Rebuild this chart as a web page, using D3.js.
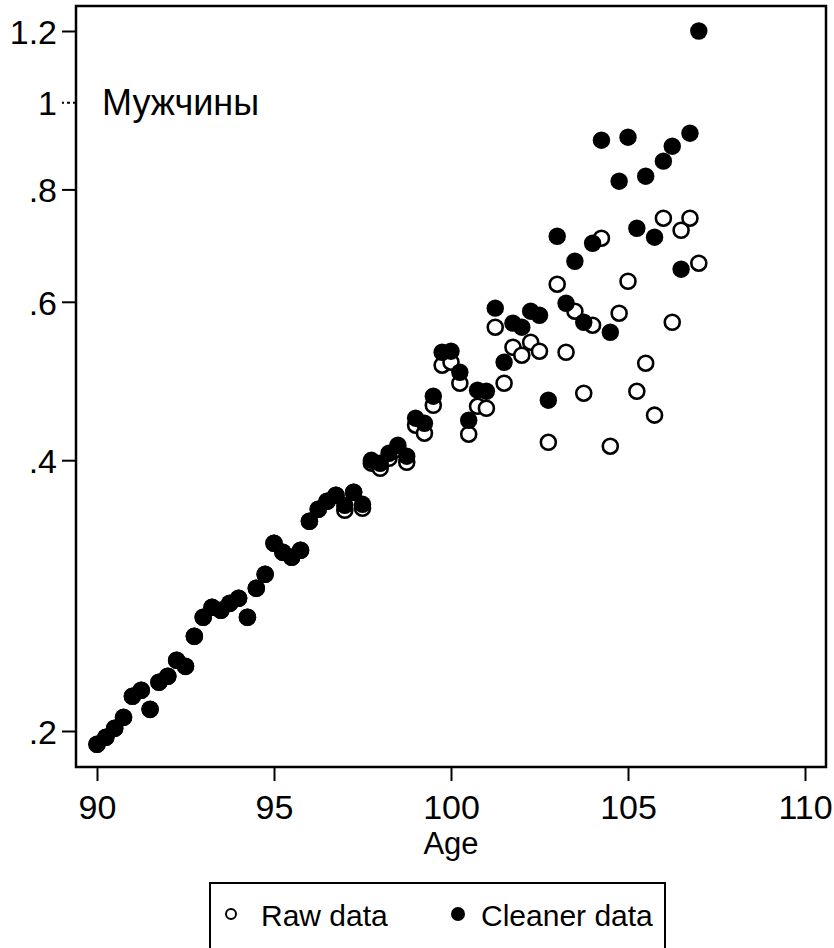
<!DOCTYPE html>
<html>
<head>
<meta charset="utf-8">
<script src="https://cdn.jsdelivr.net/npm/d3@7"></script>
<style>
  html, body { margin: 0; padding: 0; background: #fff; }
  svg { display: block; font-family: "Liberation Sans", Arial, sans-serif; }
</style>
</head>
<body>
<svg id="chart" width="834" height="948"></svg>
<script>
// ---- Data ----
const ages = [
  90, 90.25, 90.5, 90.75, 91, 91.25, 91.5, 91.75, 92, 92.25, 92.5, 92.75,
  93, 93.25, 93.5, 93.75, 94, 94.25, 94.5, 94.75, 95, 95.25, 95.5, 95.75,
  96, 96.25, 96.5, 96.75, 97, 97.25, 97.5, 97.75, 98, 98.25, 98.5, 98.75,
  99, 99.25, 99.5, 99.75, 100, 100.25, 100.5, 100.75, 101, 101.25, 101.5, 101.75,
  102, 102.25, 102.5, 102.75, 103, 103.25, 103.5, 103.75, 104, 104.25, 104.5, 104.75,
  105, 105.25, 105.5, 105.75, 106, 106.25, 106.5, 106.75, 107
];
const cleanerData = [
  0.1933, 0.1968, 0.2014, 0.2071, 0.2186, 0.2220, 0.2114, 0.2266, 0.2301, 0.2397, 0.2360, 0.2549,
  0.2676, 0.2745, 0.2724, 0.2773, 0.2809, 0.2676, 0.2882, 0.2987, 0.3234, 0.3160, 0.3120, 0.3176,
  0.3421, 0.3528, 0.3601, 0.3657, 0.3564, 0.3685, 0.3573, 0.3999, 0.3969, 0.4072, 0.4156, 0.4041,
  0.4454, 0.4397, 0.4712, 0.5273, 0.5287, 0.5010, 0.4431, 0.4785, 0.4772, 0.5903, 0.5140, 0.5681,
  0.5622, 0.5857, 0.5797, 0.4664, 0.7096, 0.5978, 0.6656, 0.5694, 0.6970, 0.9074, 0.5550, 0.8170,
  0.9144, 0.7243, 0.8275, 0.7079, 0.8600, 0.8936, 0.6522, 0.9238, 1.2000
];
const rawData = [
  0.1933, 0.1968, 0.2014, 0.2071, 0.2186, 0.2220, 0.2114, 0.2266, 0.2301, 0.2397, 0.2360, 0.2549,
  0.2676, 0.2745, 0.2724, 0.2773, 0.2809, 0.2676, 0.2882, 0.2987, 0.3234, 0.3160, 0.3120, 0.3176,
  0.3421, 0.3528, 0.3601, 0.3657, 0.3519, 0.3685, 0.3537, 0.3970, 0.3918, 0.4020, 0.4113, 0.3979,
  0.4375, 0.4286, 0.4604, 0.5101, 0.5140, 0.4871, 0.4275, 0.4592, 0.4569, 0.5622, 0.4871, 0.5341,
  0.5233, 0.5410, 0.5287, 0.4188, 0.6276, 0.5273, 0.5857, 0.4748, 0.5651, 0.7061, 0.4146, 0.5827,
  0.6324, 0.4772, 0.5127, 0.4489, 0.7431, 0.5694, 0.7206, 0.7431, 0.6623
];
const xTicks = [90, 95, 100, 105, 110];
const yTicks = [0.2, 0.4, 0.6, 0.8, 1, 1.2];
const yTickLabels = [".2", ".4", ".6", ".8", "1", "1.2"];
const panelTitle = "Мужчины";
const xTitle = "Age";
const legendLabels = ["Raw data", "Cleaner data"];

// ---- Layout ----
const svg = d3.select("#chart");
const frame = { left: 76, right: 826, top: 6, bottom: 767 };

const x = d3.scaleLinear().domain([90, 110]).range([97, 805]);
const y = d3.scaleLog().domain([0.2, 1.2]).range([731, 31]);

// frame box
svg.append("rect")
  .attr("x", frame.left).attr("y", frame.top)
  .attr("width", frame.right - frame.left).attr("height", frame.bottom - frame.top)
  .attr("fill", "none").attr("stroke", "#000").attr("stroke-width", 2.5);

// y axis
const yAxis = d3.axisLeft(y)
  .tickValues(yTicks)
  .tickFormat((d, i) => yTickLabels[i])
  .tickSize(14).tickPadding(5);
const gy = svg.append("g").attr("transform", `translate(${frame.left},0)`).call(yAxis);
gy.select(".domain").remove();
gy.selectAll(".tick line").attr("stroke", "#000").attr("stroke-width", 2);
gy.selectAll(".tick").filter(d => d === 1).select("line").attr("stroke-dasharray", "3,3");
gy.selectAll(".tick text").attr("font-size", 34).attr("fill", "#000")
  .attr("font-family", "Liberation Sans, Arial, sans-serif").attr("dy", "0.36em");

// x axis
const xAxis = d3.axisBottom(x).tickValues(xTicks).tickFormat(d3.format("d"))
  .tickSize(14).tickPadding(14);
const gx = svg.append("g").attr("transform", `translate(0,${frame.bottom})`).call(xAxis);
gx.select(".domain").remove();
gx.selectAll(".tick line").attr("stroke", "#000").attr("stroke-width", 2);
gx.selectAll(".tick text").attr("font-size", 34).attr("fill", "#000")
  .attr("font-family", "Liberation Sans, Arial, sans-serif");

// x title
svg.append("text").attr("x", x(100)).attr("y", 854)
  .attr("text-anchor", "middle").attr("font-size", 31).text(xTitle);

// panel title
svg.append("text").attr("x", 102).attr("y", 115)
  .attr("font-size", 36).text(panelTitle);

// raw data (hollow)
svg.append("g").selectAll("circle").data(ages).join("circle")
  .attr("cx", d => x(d))
  .attr("cy", (d, i) => y(rawData[i]))
  .attr("r", 7.5)
  .attr("fill", "#fff").attr("stroke", "#000").attr("stroke-width", 2.6);

// cleaner data (filled)
svg.append("g").selectAll("circle").data(ages).join("circle")
  .attr("cx", d => x(d))
  .attr("cy", (d, i) => y(cleanerData[i]))
  .attr("r", 8.7)
  .attr("fill", "#000");

// legend
const lg = svg.append("g");
lg.append("rect").attr("x", 210).attr("y", 883).attr("width", 455).attr("height", 90)
  .attr("fill", "#fff").attr("stroke", "#000").attr("stroke-width", 2);
lg.append("circle").attr("cx", 231).attr("cy", 914).attr("r", 5)
  .attr("fill", "#fff").attr("stroke", "#000").attr("stroke-width", 2);
lg.append("text").attr("x", 261).attr("y", 926).attr("font-size", 30).text(legendLabels[0]);
lg.append("circle").attr("cx", 458).attr("cy", 914).attr("r", 7).attr("fill", "#000");
lg.append("text").attr("x", 481).attr("y", 926).attr("font-size", 30).text(legendLabels[1]);
</script>
</body>
</html>
